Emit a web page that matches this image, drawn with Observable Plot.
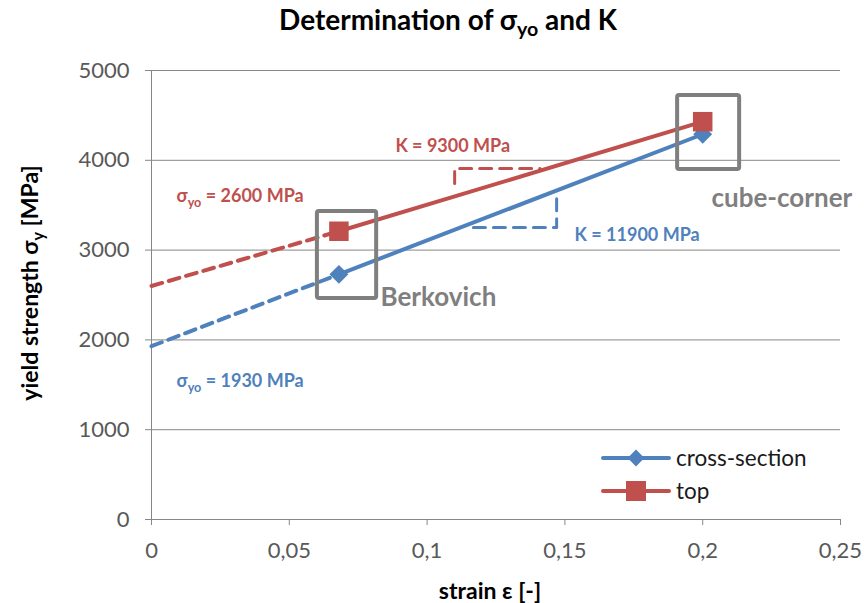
<!DOCTYPE html>
<html><head><meta charset="utf-8">
<script src="https://cdn.jsdelivr.net/npm/d3@7"></script>
<script src="https://cdn.jsdelivr.net/npm/@observablehq/plot@0.6"></script>
<style>
body{margin:0;background:#fff;font-family:Lato,"Open Sans",sans-serif;}
#wrap{position:relative;width:866px;height:603px;}
#title{position:absolute;left:0;top:2px;width:896px;text-align:center;font-weight:bold;font-size:28px;color:#000;}
#title sub{font-size:70%;vertical-align:-0.3em;line-height:0;}
#chart{position:absolute;left:0;top:45px;}
#legend{position:absolute;left:600px;top:441px;font-size:22.5px;color:#1a1a1a;}
.li{display:flex;align-items:center;height:33px;}
.li svg{margin-right:4px;}
</style></head>
<body><div id="wrap">
<div id="title">Determination of σ<sub>yo</sub> and K</div>
<div id="chart"></div>
<div id="legend"></div>
</div>
<script>
// ---- data ----
const series = ["cross-section", "top"];
const colors = ["#4f81bd", "#c0504d"];
const strain = [0.068, 0.2];                 // Berkovich, cube-corner
const crossSection = [2730, 4290];            // MPa
const topSurface = [3210, 4430];              // MPa
const sigmaYo = [1930, 2600];                 // intercepts (cross-section, top)
const K = [11900, 9300];                      // slopes
const yTicks = [0, 1000, 2000, 3000, 4000, 5000];
const xTicks = [0, 0.05, 0.1, 0.15, 0.2, 0.25];

const values = [crossSection, topSurface];
const solid = [], dashed = [], pts = [];
series.forEach((s, i) => {
  strain.forEach((x, j) => { solid.push({s, x, y: values[i][j]}); pts.push({s, x, y: values[i][j]}); });
  dashed.push({s, x: 0, y: sigmaYo[i]}, {s, x: strain[0], y: values[i][0]});
});

const gray = "#878787";
const boxes = [
  {x1: 0.0602, x2: 0.0817, y1: 2461, y2: 3430},
  {x1: 0.1909, x2: 0.2134, y1: 3897, y2: 4722}
];
const triRed = [{x: 0.110, y: 3742}, {x: 0.110, y: 3909}, {x: 0.141, y: 3909}];
const triBlue = [{x: 0.1168, y: 3252}, {x: 0.147, y: 3252}, {x: 0.147, y: 3608}];

const labels = [
  {x: 0.0091, y: 3597, t: "σ_{yo} = " + sigmaYo[1] + " MPa", c: colors[1]},
  {x: 0.0885, y: 4154, t: "K = " + K[1] + " MPa", c: colors[1]},
  {x: 0.1535, y: 3163, t: "K = " + K[0] + " MPa", c: colors[0]},
  {x: 0.0091, y: 1537, t: "σ_{yo} = " + sigmaYo[0] + " MPa", c: colors[0]}
];
const indenters = [
  {x: 0.0831, y: 2472, t: "Berkovich"},
  {x: 0.2032, y: 3575, t: "cube-corner"}
];

const plot = Plot.plot({
  width: 866, height: 558,
  marginTop: 25, marginBottom: 84, marginLeft: 151, marginRight: 26,
  style: {fontFamily: "Lato, 'Open Sans', sans-serif", overflow: "visible"},
  x: {domain: [0, 0.25]},
  y: {domain: [0, 5000]},
  color: {domain: series, range: colors},
  marks: [
    Plot.gridY(yTicks.slice(1), {stroke: gray, strokeOpacity: 1, strokeWidth: 1}),
    Plot.ruleY([0], {stroke: gray}),
    Plot.ruleX([0], {stroke: gray}),
    Plot.axisY({ticks: yTicks, tickFormat: d => String(d), tickSize: 6, tickPadding: 16, fontSize: 22, stroke: gray, fill: "#595959", label: null}),
    Plot.axisX({ticks: xTicks, tickFormat: d => String(d).replace(".", ","), tickSize: 6, tickPadding: 17, fontSize: 22, stroke: gray, fill: "#595959", label: null}),
    Plot.line(dashed, {x: "x", y: "y", z: "s", stroke: "s", strokeWidth: 4, strokeDasharray: "11,7", strokeLinecap: "round"}),
    Plot.line(solid, {x: "x", y: "y", z: "s", stroke: "s", strokeWidth: 4, strokeLinecap: "round"}),
    Plot.line(triRed, {x: "x", y: "y", stroke: colors[1], strokeWidth: 3, strokeDasharray: "12,8"}),
    Plot.line(triBlue, {x: "x", y: "y", stroke: colors[0], strokeWidth: 3, strokeDasharray: "12,8"}),
    Plot.dot(pts.filter(d => d.s === series[0]), {x: "x", y: "y", symbol: "diamond2", r: 8.5, fill: colors[0], stroke: null}),
    Plot.dot(pts.filter(d => d.s === series[1]), {x: "x", y: "y", symbol: "square", r: 11, fill: colors[1], stroke: null}),
    Plot.rect(boxes, {x1: "x1", x2: "x2", y1: "y1", y2: "y2", fill: "none", stroke: "#7f7f7f", strokeWidth: 4, rx: 2}),
    Plot.text(labels, {x: "x", y: "y", text: "t", fill: "c", textAnchor: "start", fontSize: 18, fontWeight: "bold"}),
    Plot.text(indenters, {x: "x", y: "y", text: "t", fill: "#7f7f7f", textAnchor: "start", fontSize: 26, fontWeight: "bold"}),
    Plot.text(["strain ε [-]"], {frameAnchor: "bottom", textAnchor: "middle", lineAnchor: "middle", dx: -6, dy: 72, fontSize: 23, fontWeight: "bold", fill: "#000"}),
    Plot.text(["yield strength σ_{y} [MPa]"], {frameAnchor: "left", textAnchor: "middle", lineAnchor: "middle", dx: -121, dy: -12, rotate: -90, fontSize: 23, fontWeight: "bold", fill: "#000"})
  ]
});

// render subscripts marked as _{...}
d3.select(plot).selectAll("text").each(function() {
  const txt = this.textContent;
  if (!txt.includes("_{")) return;
  const el = d3.select(this);
  el.text(null);
  const parts = txt.split(/(_\{[^}]*\})/);
  let shifted = false;
  parts.forEach(p => {
    if (!p) return;
    if (p.startsWith("_{")) {
      el.append("tspan").attr("font-size", "70%").attr("dy", "0.35em").text(p.slice(2, -1));
      shifted = true;
    } else {
      const t = el.append("tspan").text(p);
      if (shifted) { t.attr("dy", "-0.245em"); shifted = false; }
    }
  });
});
document.getElementById("chart").appendChild(plot);

// legend
const leg = d3.select("#legend");
series.forEach((s, i) => {
  const row = leg.append("div").attr("class", "li");
  const sv = row.append("svg").attr("width", 72).attr("height", 24);
  sv.append("line").attr("x1", 3).attr("x2", 69).attr("y1", 12).attr("y2", 12)
    .attr("stroke", colors[i]).attr("stroke-width", 4).attr("stroke-linecap", "round");
  if (i === 0) sv.append("path").attr("d", d3.symbol(d3.symbolDiamond2, 180)()).attr("transform", "translate(36,12)").attr("fill", colors[i]);
  else sv.append("rect").attr("x", 26).attr("y", 2).attr("width", 20).attr("height", 20).attr("fill", colors[i]);
  row.append("span").text(s);
});
</script>
</body></html>
